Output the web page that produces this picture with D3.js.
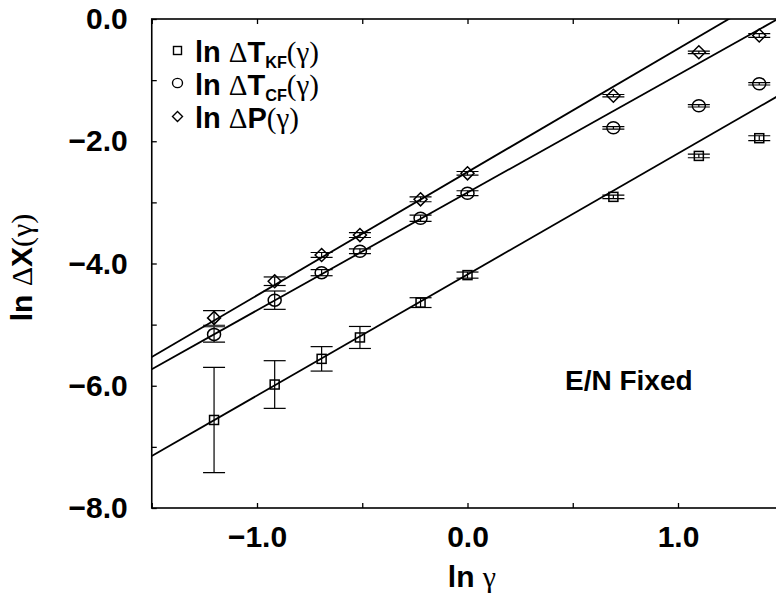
<!DOCTYPE html>
<html>
<head>
<meta charset="utf-8">
<script src="https://cdn.jsdelivr.net/npm/d3@7"></script>
<style>
  html, body { margin: 0; padding: 0; background: #fff; overflow: hidden; }
  svg { display: block; }
</style>
</head>
<body>
<svg id="chart" width="776" height="598"></svg>
<script>
// ln(gamma) for gamma = 0.3, 0.4, 0.5, 0.6, 0.8, 1, 2, 3, 4
const lnGamma = [-1.204, -0.916, -0.693, -0.511, -0.223, 0.0, 0.693, 1.099, 1.386];

// ln ΔT_KF(γ) and its error
const lnTKF  = [-6.56, -5.98, -5.56, -5.21, -4.64, -4.19, -2.91, -2.24, -1.95];
const errTKF = [0.86, 0.39, 0.20, 0.18, 0.08, 0.05, 0.03, 0.03, 0.04];

// ln ΔT_CF(γ) and its error
const lnTCF  = [-5.16, -4.60, -4.15, -3.80, -3.26, -2.85, -1.78, -1.42, -1.06];
const errTCF = [0.125, 0.15, 0.05, 0.04, 0.05, 0.04, 0.02, 0.02, 0.02];

// ln ΔP(γ) and its error
const lnP  = [-4.89, -4.29, -3.86, -3.535, -2.95, -2.525, -1.255, -0.545, -0.27];
const errP = [0.12, 0.07, 0.04, 0.04, 0.04, 0.03, 0.02, 0.02, 0.03];

// straight-line fits (slope, intercept) for KF, CF, P
const fitSlope     = [1.98, 1.926, 2.017];
const fitIntercept = [-4.18, -2.84, -2.504];

const xMajorTicks = [-1, 0, 1];
const xMinorTicks = [-1.5, -0.5, 0.5, 1.5];
const yMajorTicks = [0, -2, -4, -6, -8];
const yMinorTicks = [-1, -3, -5, -7];

const SANS = '"Liberation Sans", Arial, Helvetica, sans-serif';
const GREEK = '"Liberation Serif", "Times New Roman", serif';

const svg = d3.select("#chart");
const x = d3.scaleLinear().domain([-1.5, 1.5]).range([151.75, 783.25]);
const y = d3.scaleLinear().domain([-8, 0]).range([508, 19]);

const [x0, x1] = x.range();
const [yb, yt] = y.range();

svg.append("rect").attr("width", 776).attr("height", 598).attr("fill", "#fff");

svg.append("clipPath").attr("id", "plotClip")
  .append("rect").attr("x", x0).attr("y", yt).attr("width", x1 - x0).attr("height", yb - yt);

// ---- axes (ticks point inward) ----
const fmt = d3.format(".1f");
function styleAxis(g) {
  g.select(".domain").remove();
  g.selectAll("line").attr("stroke", "#000").attr("stroke-width", 1.3);
}

svg.append("g").attr("transform", `translate(0,${yb})`)
  .call(d3.axisBottom(x).tickValues(xMajorTicks).tickSize(-5).tickPadding(17.5).tickFormat(fmt))
  .call(styleAxis)
  .call(g => g.selectAll("text").attr("font-family", SANS).attr("font-weight", "bold")
      .attr("font-size", 30).attr("fill", "#000"));
svg.append("g").attr("transform", `translate(0,${yb})`)
  .call(d3.axisBottom(x).tickValues(xMinorTicks).tickSize(-5).tickFormat(""))
  .call(styleAxis);
svg.append("g").attr("transform", `translate(0,${yt})`)
  .call(d3.axisTop(x).tickValues(xMajorTicks.concat(xMinorTicks)).tickSize(-5).tickFormat(""))
  .call(styleAxis);

svg.append("g").attr("transform", `translate(${x0},0)`)
  .call(d3.axisLeft(y).tickValues(yMajorTicks).tickSize(-5).tickPadding(24).tickFormat(fmt))
  .call(styleAxis)
  .call(g => g.selectAll("text").attr("font-family", SANS).attr("font-weight", "bold")
      .attr("font-size", 30).attr("fill", "#000"));
svg.append("g").attr("transform", `translate(${x0},0)`)
  .call(d3.axisLeft(y).tickValues(yMinorTicks).tickSize(-5).tickFormat(""))
  .call(styleAxis);

// frame
svg.append("rect")
  .attr("x", x0).attr("y", yt).attr("width", x1 - x0).attr("height", yb - yt)
  .attr("fill", "none").attr("stroke", "#000").attr("stroke-width", 1.6);

// ---- fit lines ----
const fitLine = d3.line().x(d => x(d[0])).y(d => y(d[1]));
fitSlope.forEach((m, i) => {
  const b = fitIntercept[i];
  const pts = [-1.5, 1.5].map(v => [v, b + m * v]);
  svg.append("path")
    .attr("clip-path", "url(#plotClip)")
    .attr("d", fitLine(pts))
    .attr("fill", "none").attr("stroke", "#000").attr("stroke-width", 1.8);
});

// ---- data with error bars ----
const series = [
  { vals: lnTKF, errs: errTKF, shape: "square" },
  { vals: lnTCF, errs: errTCF, shape: "circle" },
  { vals: lnP,   errs: errP,   shape: "diamond" }
];

function drawMarker(g, shape, cx, cy, s) {
  if (shape === "square") {
    g.append("rect").attr("x", cx - s.sq / 2).attr("y", cy - s.sq / 2)
      .attr("width", s.sq).attr("height", s.sq);
  } else if (shape === "circle") {
    g.append("ellipse").attr("cx", cx).attr("cy", cy).attr("rx", s.rx).attr("ry", s.ry);
  } else {
    const h = s.dm;
    g.append("path").attr("d", `M${cx},${cy - h}L${cx + h},${cy}L${cx},${cy + h}L${cx - h},${cy}Z`);
  }
}

const capHalf = 11;
const markerSize = { sq: 9, rx: 6.5, ry: 6, dm: 6.5 };

series.forEach(s => {
  const g = svg.append("g").attr("clip-path", "url(#plotClip)");
  lnGamma.forEach((lx, i) => {
    const cx = x(lx), cy = y(s.vals[i]);
    const top = y(s.vals[i] + s.errs[i]), bot = y(s.vals[i] - s.errs[i]);
    const eb = g.append("g").attr("stroke", "#000").attr("stroke-width", 1.2);
    eb.append("line").attr("x1", cx).attr("x2", cx).attr("y1", top).attr("y2", bot);
    eb.append("line").attr("x1", cx - capHalf).attr("x2", cx + capHalf).attr("y1", top).attr("y2", top);
    eb.append("line").attr("x1", cx - capHalf).attr("x2", cx + capHalf).attr("y1", bot).attr("y2", bot);
    const mk = g.append("g").attr("fill", "#fff").attr("fill-opacity", 0)
      .attr("stroke", "#000").attr("stroke-width", 1.5);
    drawMarker(mk, s.shape, cx, cy, markerSize);
  });
});

// ---- rich-text helper: bold sans, symbol-like greek, subscripts ----
function richText(sel, parts, size) {
  let shifted = 0;
  parts.forEach(p => {
    const t = sel.append("tspan").text(p.t);
    if (p.k === "g") {
      t.attr("font-family", GREEK).attr("font-weight", "normal").attr("font-size", size);
    } else if (p.k === "sub") {
      t.attr("font-family", SANS).attr("font-weight", "bold").attr("font-size", size * 0.56);
    } else {
      t.attr("font-family", SANS).attr("font-weight", "bold").attr("font-size", size);
    }
    const target = p.k === "sub" ? 6 : 0;
    if (target !== shifted) { t.attr("dy", target - shifted); shifted = target; }
  });
}

// ---- legend ----
const legendRows = [
  { shape: "square",  parts: [{t:"ln "},{t:"Δ",k:"g"},{t:"T"},{t:"KF",k:"sub"},{t:"(γ)",k:"g"}] },
  { shape: "circle",  parts: [{t:"ln "},{t:"Δ",k:"g"},{t:"T"},{t:"CF",k:"sub"},{t:"(γ)",k:"g"}] },
  { shape: "diamond", parts: [{t:"ln "},{t:"Δ",k:"g"},{t:"P"},{t:"(γ)",k:"g"}] }
];
const legendBase = [62, 94.5, 128];
const legendMarker = { sq: 8, rx: 5, ry: 4.6, dm: 5 };
legendRows.forEach((r, i) => {
  const mk = svg.append("g").attr("fill", "none").attr("stroke", "#000").attr("stroke-width", 1.4);
  drawMarker(mk, r.shape, 177.5, legendBase[i] - 11.5, legendMarker);
  const t = svg.append("text").attr("x", 195).attr("y", legendBase[i]).attr("fill", "#000");
  richText(t, r.parts, 29);
});

// ---- annotation ----
svg.append("text").attr("x", 565).attr("y", 390)
  .attr("font-family", SANS).attr("font-weight", "bold").attr("font-size", 28)
  .attr("fill", "#000").text("E/N Fixed");

// ---- axis titles ----
const xt = svg.append("text").attr("x", 472).attr("y", 587).attr("text-anchor", "middle").attr("fill", "#000");
richText(xt, [{t:"ln "},{t:"γ",k:"g"}], 30);

const yTitle = svg.append("text")
  .attr("transform", "translate(32,267.5) rotate(-90)")
  .attr("text-anchor", "middle").attr("fill", "#000");
richText(yTitle, [{t:"ln "},{t:"Δ",k:"g"},{t:"X"},{t:"(γ)",k:"g"}], 30);
</script>
</body>
</html>
